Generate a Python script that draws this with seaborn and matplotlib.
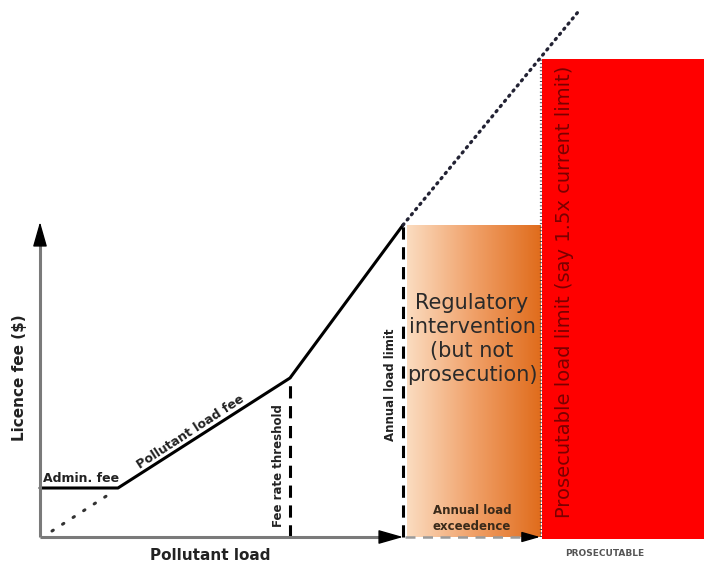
import numpy as np
import pandas as pd
import seaborn as sns
import matplotlib.pyplot as plt
from matplotlib.colors import LinearSegmentedColormap

# fee curve breakpoints (load units, fee units)
curve_load = [0, 78, 250, 363]
curve_fee = [49, 49, 159, 312]

# dotted extensions
low_ext_load = [12, 68]
low_ext_fee = [6, 42]
high_ext_load = [363, 538]
high_ext_fee = [312, 525]

fee_threshold = 250
annual_limit = 365
prosecutable_limit = 502
prosecutable_fee = 478
x_end = 664
y_top = 315

sns.set_style("white")
plt.rcParams['font.family'] = ['DejaVu Sans']

fig = plt.figure(figsize=(7.04, 5.67), dpi=100)
ax = fig.add_axes([0, 0, 1, 1])
ax.set_xlim(-40, 664)
ax.set_ylim(-30, 537)
ax.axis('off')

df = pd.DataFrame({'load': curve_load, 'fee': curve_fee})
sns.lineplot(data=df, x='load', y='fee', color='black', linewidth=2.2, ax=ax, sort=False)

ax.plot(low_ext_load, low_ext_fee, color='#333333', linestyle=(0, (0.5, 3.6)), linewidth=2.2,
        dash_capstyle='round')
ax.plot(high_ext_load, high_ext_fee, color='#222233', linestyle=(0, (0.4, 1.6)), linewidth=2.4,
        dash_capstyle='round')

# orange gradient box
cmap = LinearSegmentedColormap.from_list('org', ['#fbdcc0', '#f0a068', '#e06c1c'])
grad = np.linspace(0, 1, 256).reshape(1, -1)
ax.imshow(grad, cmap=cmap, aspect='auto', zorder=0,
          extent=[annual_limit + 2, prosecutable_limit - 1, 0, curve_fee[-1]])

# red box
ax.fill_between([prosecutable_limit, x_end], -2, prosecutable_fee, color='#ff0000', zorder=1,
                linewidth=0)
ax.plot([prosecutable_limit - 1, prosecutable_limit - 1], [0, prosecutable_fee],
        color='#333344', linestyle=(0, (0.4, 1.2)), linewidth=1.6, zorder=3)

# vertical dashed limits
ax.plot([fee_threshold, fee_threshold], [0, curve_fee[2]], color='black',
        linestyle=(0, (4, 2.5)), linewidth=2.2)
ax.plot([annual_limit - 2, annual_limit - 2], [0, curve_fee[-1]], color='black',
        linestyle=(0, (4, 2.5)), linewidth=2.2)

# axes: gray shafts, black heads
ax.plot([0, 0], [0, y_top - 15], color='#7a7a7a', linewidth=2.2, solid_capstyle='butt')
ax.plot([0, annual_limit - 15], [0, 0], color='#7a7a7a', linewidth=2.2, solid_capstyle='butt')
ax.plot([annual_limit, prosecutable_limit - 12], [0, 0], color='#9a9a9a', linewidth=1.8,
        linestyle=(0, (4, 3)))
head = dict(arrowstyle='-|>,head_length=0.7,head_width=0.2', color='black', lw=1,
            mutation_scale=22, shrinkA=0, shrinkB=0)
ax.annotate('', xy=(0, y_top), xytext=(0, y_top - 18), arrowprops=head)
ax.annotate('', xy=(annual_limit - 2, 0), xytext=(annual_limit - 20, 0), arrowprops=head)
head2 = dict(head, mutation_scale=16)
ax.annotate('', xy=(prosecutable_limit - 2, 0), xytext=(prosecutable_limit - 14, 0),
            arrowprops=head2)

# labels
ax.text(-20, 159, 'Licence fee ($)', rotation=90, ha='center', va='center',
        fontsize=11, fontweight='bold', color='#222222')
ax.text(170, -19, 'Pollutant load', ha='center', va='center',
        fontsize=11, fontweight='bold', color='#222222')
ax.text(3, 59, 'Admin. fee', ha='left', va='center', fontsize=9, fontweight='bold',
        color='#222222')
ax.text(151, 105, 'Pollutant load fee', rotation=33, ha='center', va='center',
        fontsize=9, fontweight='bold', color='#222222')
ax.text(238, 71, 'Fee rate threshold', rotation=90, ha='center', va='center',
        fontsize=8.5, fontweight='bold', color='#222222')
ax.text(351, 152, 'Annual load limit', rotation=90, ha='center', va='center',
        fontsize=8.5, fontweight='bold', color='#222222')
ax.text(432, 198, 'Regulatory\nintervention\n(but not\nprosecution)', ha='center',
        va='center', fontsize=15, color='#2a2a2a', linespacing=1.25)
ax.text(432, 18, 'Annual load\nexceedence', ha='center', va='center', fontsize=8.5,
        fontweight='bold', color='#3a2a1a', linespacing=1.3)
ax.text(525, 245, 'Prosecutable load limit (say 1.5x current limit)', rotation=90,
        ha='center', va='center', fontsize=14, color='#7a0000')
ax.text(565, -16, 'PROSECUTABLE', ha='center', va='center', fontsize=6.5,
        fontweight='bold', color='#555555')

fig.savefig('out.png', dpi=100)
